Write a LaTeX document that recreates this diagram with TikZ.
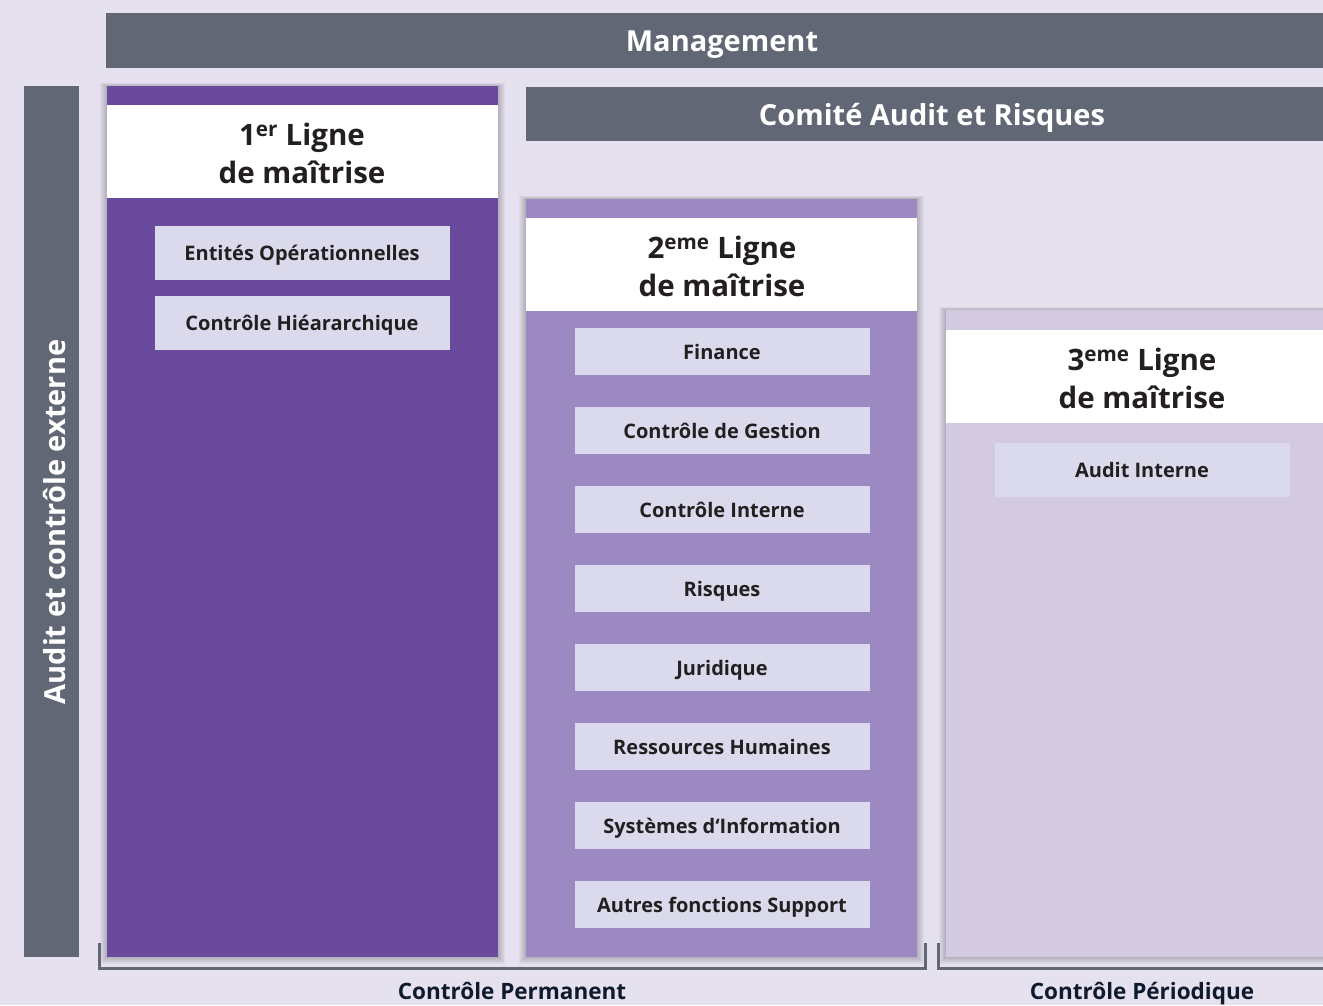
\documentclass[tikz,border=0pt]{standalone}
\usepackage{fontspec}
\setmainfont{Open Sans}
\definecolor{bgc}{HTML}{E6E1EF}
\definecolor{barc}{HTML}{626775}
\definecolor{colA}{HTML}{6A4A9C}
\definecolor{colB}{HTML}{9D89C2}
\definecolor{colC}{HTML}{D3CAE2}
\definecolor{itemc}{HTML}{DADAEC}
\definecolor{txtc}{HTML}{231F20}
\definecolor{navy}{HTML}{0F1A2E}
\tikzset{
  barlabel/.style={text=white,font=\bfseries\fontsize{29}{32}\selectfont,inner sep=0pt},
  titlebox/.style={text=txtc,font=\bfseries\fontsize{29.5}{38}\selectfont,align=center,inner sep=0pt},
  itembox/.style={fill=itemc,text=txtc,font=\bfseries\fontsize{20}{22}\selectfont,minimum width=295pt,inner sep=0pt,anchor=center,text height=15pt,text depth=0pt},
  footlabel/.style={text=navy,font=\bfseries\fontsize{22.5}{26}\selectfont,inner sep=0pt,anchor=base},
  bracket/.style={draw=barc,line width=3pt},
}
\newcommand{\softshadow}[4]{%
  \foreach \i in {1,...,7}{\fill[black,opacity=0.03] (#1-\i,#2-\i*0.5) rectangle (#3+\i,#4+\i);}}
\begin{document}
\begin{tikzpicture}[x=1pt,y=-1pt]
\useasboundingbox (0,0) rectangle (1323,1005);
\fill[bgc] (0,0) rectangle (1323,1005);
% Management
\fill[barc] (106,13) rectangle (1323,68);
\node[barlabel] (mgmt) at (722,45) {Management};
% left vertical bar
\fill[barc] (24,86) rectangle (79,957);
\node[barlabel,rotate=90] (ext) at (55,522) {Audit et contrôle externe};
% Comite bar
\fill[barc] (526,87) rectangle (1323,141);
\node[barlabel] (comite) at (932,118) {Comité Audit et Risques};
% column 1
\softshadow{107}{86}{498}{957}
\fill[colA] (107,86) rectangle (498,957);
\fill[white] (107,105) rectangle (498,198);
\node[titlebox] (t1) at (302,153) {1\textsuperscript{er} Ligne\\de maîtrise};
\node[itembox,minimum height=54pt] (a1) at (302,252.5) {Entités Opérationnelles};
\node[itembox,minimum height=54pt] (a2) at (302,322.5) {Contrôle Hiéararchique};
% column 2
\softshadow{526}{199}{917}{957}
\fill[colB] (526,199) rectangle (917,957);
\fill[white] (526,218) rectangle (917,311);
\node[titlebox] (t2) at (722,266.5) {2\textsuperscript{eme} Ligne\\de maîtrise};
\foreach \n/\t [count=\k from 0] in {b1/Finance,b2/Contrôle de Gestion,b3/Contrôle Interne,b4/Risques,b5/Juridique,b6/Ressources Humaines,b7/Systèmes d‘Information,b8/Autres fonctions Support}{
  \node[itembox,minimum height=47pt] (\n) at (722,351.5+79*\k) {\t};
}
% column 3
\softshadow{946}{310}{1323}{957}
\fill[colC] (946,310) rectangle (1323,957);
\fill[white] (946,330) rectangle (1323,423);
\node[titlebox] (t3) at (1142,378) {3\textsuperscript{eme} Ligne\\de maîtrise};
\node[itembox,minimum height=54pt] (c1) at (1142,470) {Audit Interne};
% brackets
\coordinate (pA) at (99,943);
\coordinate (pB) at (925,943);
\coordinate (pC) at (938,943);
\coordinate (pD) at (1330,968);
\draw[bracket] (pA) |- (pB |- 0,968) -- (pB);
\draw[bracket] (pC) |- (pD);
\node[footlabel] (perm) at (512,999) {Contrôle Permanent};
\node[footlabel] (peri) at (1142,999) {Contrôle Périodique};
\end{tikzpicture}
\end{document}
